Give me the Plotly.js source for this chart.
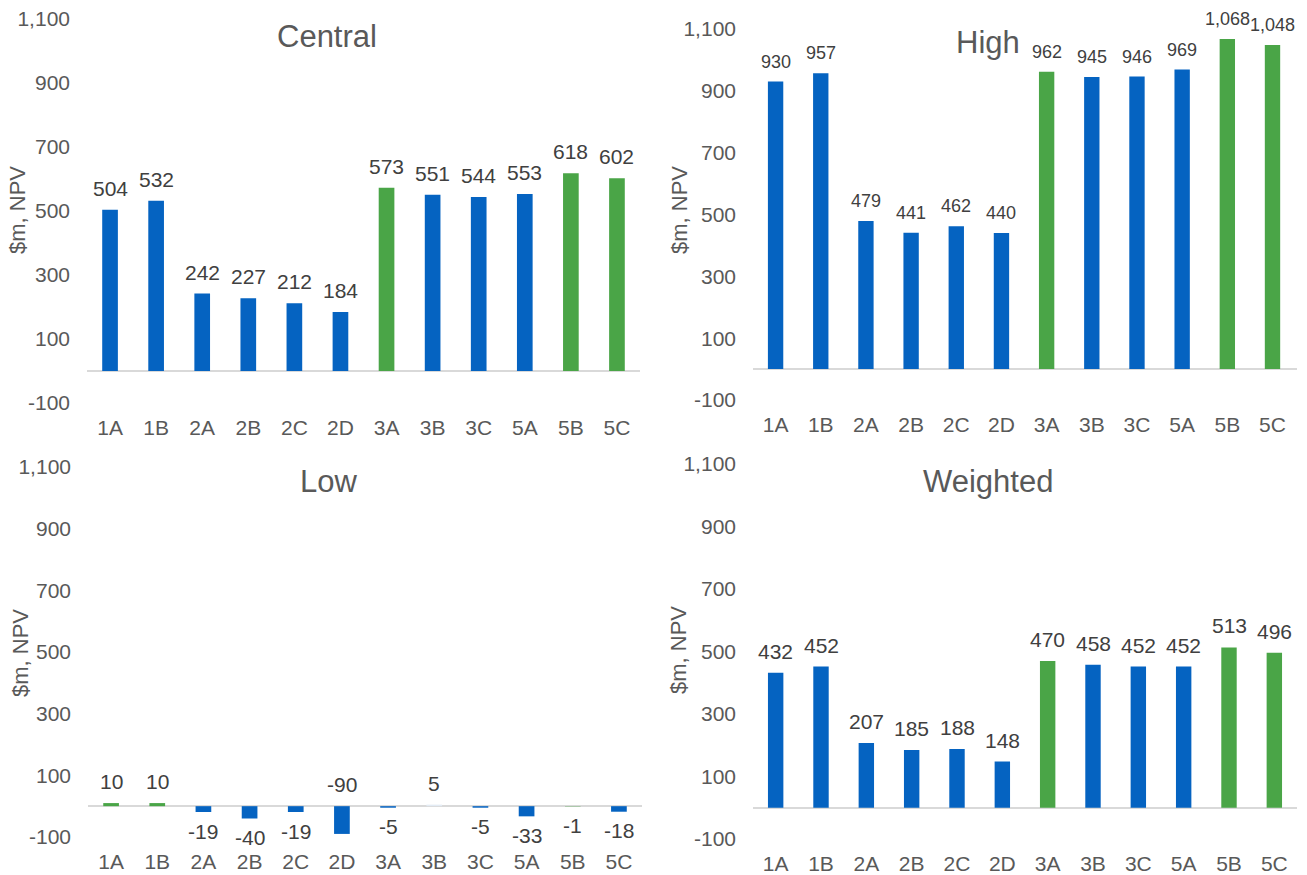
<!DOCTYPE html>
<html>
<head>
<meta charset="utf-8">
<script src="https://cdn.plot.ly/plotly-3.0.1.min.js"></script>
<style>
  html, body { margin: 0; padding: 0; background: #ffffff; }
  #chart { width: 1307px; height: 875px; }
</style>
</head>
<body>
<div id="chart"></div>
<script>
// Options compared across four price scenarios ($m, NPV)
const options = ["1A", "1B", "2A", "2B", "2C", "2D", "3A", "3B", "3C", "5A", "5B", "5C"];

const centralNPV  = [504, 532, 242, 227, 212, 184, 573, 551, 544, 553, 618, 602];
const highNPV     = [930, 957, 479, 441, 462, 440, 962, 945, 946, 969, 1068, 1048];
const lowNPV      = [10, 10, -19, -40, -19, -90, -5, 5, -5, -33, -1, -18];
const weightedNPV = [432, 452, 207, 185, 188, 148, 470, 458, 452, 452, 513, 496];

const yTicks = [-100, 100, 300, 500, 700, 900, 1100];
const panelTitles = ["Central", "High", "Low", "Weighted"];
const yTitle = "$m, NPV";

// Bar colours: blue for most options, green for the preferred ones
const BLUE = "#0563C1", GREEN = "#4AA547", PALE = "#E3EBF4";
const centralColors  = [BLUE, BLUE, BLUE, BLUE, BLUE, BLUE, GREEN, BLUE, BLUE, BLUE, GREEN, GREEN];
const highColors     = centralColors;
const weightedColors = centralColors;
const lowColors      = [GREEN, GREEN, BLUE, BLUE, BLUE, BLUE, BLUE, PALE, BLUE, BLUE, GREEN, BLUE];
// Low-case label placement: the -90 label for 2D sits above the axis
const lowLabelAbove  = [true, true, false, false, false, true, false, true, false, false, false, false];

const FONT = "Liberation Sans, Arial, sans-serif";
const TICK_GREY = "#595959";
const LABEL_GREY = "#404040";

const W = 1307, H = 875;
const px = v => v / W;
const py = v => 1 - v / H;

// Pixel boxes of the four plot areas [left, right, top, bottom]
const boxes = [
  [87, 640, 19, 403],
  [753, 1297, 29, 400],
  [88, 642, 467, 837],
  [753, 1297, 464, 839]
];
const titlePos = [[327, 36], [988, 42], [328, 481], [988, 481]];
const yTitlePos = [[17, 210], [679, 210], [20, 653], [678, 650]];

const series = [
  { y: centralNPV,  colors: centralColors,  labelSize: 21 },
  { y: highNPV,     colors: highColors,     labelSize: 18 },
  { y: lowNPV,      colors: lowColors,      labelSize: 21 },
  { y: weightedNPV, colors: weightedColors, labelSize: 21 }
];

const traces = [];
const layout = {
  width: W, height: H,
  margin: { l: 0, r: 0, t: 0, b: 0 },
  paper_bgcolor: "#ffffff",
  plot_bgcolor: "#ffffff",
  showlegend: false,
  bargap: 0.66,
  font: { family: FONT, color: TICK_GREY },
  annotations: []
};

series.forEach((s, i) => {
  const n = i === 0 ? "" : String(i + 1);
  const xa = "x" + n, ya = "y" + n;
  const b = boxes[i];

  traces.push({
    type: "bar",
    x: options,
    y: s.y,
    xaxis: xa, yaxis: ya,
    marker: { color: s.colors, line: { width: 0 } },
    hoverinfo: "x+y"
  });

  layout["xaxis" + n] = {
    domain: [px(b[0]), px(b[1])],
    anchor: ya,
    type: "category",
    showgrid: false, zeroline: false, showline: false,
    ticks: "",
    ticklabelstandoff: 10,
    tickfont: { family: FONT, size: 21, color: TICK_GREY },
    fixedrange: true
  };
  layout["yaxis" + n] = {
    domain: [py(b[3]), py(b[2])],
    anchor: xa,
    range: [-100, 1100],
    tickmode: "array",
    tickvals: yTicks,
    ticktext: yTicks.map(v => v.toLocaleString("en-US")),
    showgrid: false, showline: false,
    zeroline: true, zerolinecolor: "#D9D9D9", zerolinewidth: 1.5,
    ticks: "",
    ticklabelstandoff: 16,
    tickfont: { family: FONT, size: 21, color: TICK_GREY },
    fixedrange: true
  };

  // Panel title
  layout.annotations.push({
    xref: "paper", yref: "paper",
    x: px(titlePos[i][0]), y: py(titlePos[i][1]),
    xanchor: "center", yanchor: "middle",
    text: panelTitles[i], showarrow: false,
    font: { family: FONT, size: 31, color: TICK_GREY }
  });
  // Vertical axis title
  layout.annotations.push({
    xref: "paper", yref: "paper",
    x: px(yTitlePos[i][0]), y: py(yTitlePos[i][1]),
    xanchor: "center", yanchor: "middle",
    text: yTitle, textangle: -90, showarrow: false,
    font: { family: FONT, size: 22, color: TICK_GREY }
  });

  // Value labels on each bar
  s.y.forEach((v, k) => {
    const above = i === 2 ? lowLabelAbove[k] : v >= 0;
    layout.annotations.push({
      xref: xa, yref: ya,
      x: options[k],
      y: above ? Math.max(v, 0) : v,
      xanchor: "center",
      yanchor: above ? "bottom" : "middle",
      yshift: above ? 8 : -19,
      text: v.toLocaleString("en-US"),
      showarrow: false,
      font: { family: FONT, size: s.labelSize, color: LABEL_GREY }
    });
  });
});

Plotly.newPlot("chart", traces, layout, { displayModeBar: false, staticPlot: true });
</script>
</body>
</html>
